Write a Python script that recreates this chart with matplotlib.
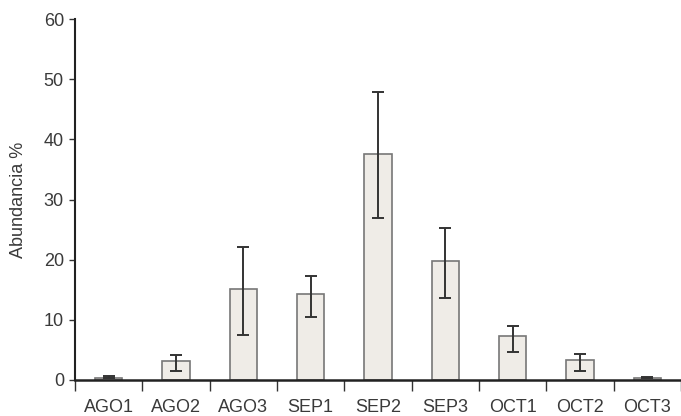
import numpy as np
import matplotlib
matplotlib.use("Agg")
import matplotlib.pyplot as plt

categories = ["AGO1", "AGO2", "AGO3", "SEP1", "SEP2", "SEP3", "OCT1", "OCT2", "OCT3"]
abundance = [0.4, 3.2, 15.1, 14.3, 37.5, 19.8, 7.3, 3.4, 0.4]
err_low = [0.1, 1.7, 7.6, 3.8, 10.5, 6.2, 2.6, 1.95, 0.1]
err_high = [0.2, 0.95, 7.0, 3.0, 10.4, 5.5, 1.7, 1.0, 0.1]

plt.rcParams["font.family"] = ["Liberation Sans", "DejaVu Sans"]
text_color = "#3a3a3a"

fig = plt.figure(figsize=(6.81, 4.16), dpi=100)
ax = fig.add_axes([75 / 681, 36 / 416, 1 - 75 / 681, 361 / 416])

x = np.arange(len(categories))
ax.bar(x, abundance, width=0.41, color="#efece7", edgecolor="#777777", linewidth=1.2, zorder=2)
ax.errorbar(x, abundance, yerr=[err_low, err_high], fmt="none", ecolor="#333333",
            elinewidth=1.4, capsize=4.5, capthick=1.4, zorder=3)

ax.set_xlim(-0.5, 8.45)
ax.set_ylim(0, 60)
ax.set_yticks(np.arange(0, 61, 10))
ax.set_xticks(x)
ax.set_xticklabels(categories)
ax.set_xticks(np.arange(-0.5, 9, 1), minor=True)

for side in ("top", "right"):
    ax.spines[side].set_visible(False)
ax.spines["left"].set_linewidth(1.5)
ax.spines["bottom"].set_linewidth(1.8)
ax.spines["left"].set_color("#222222")
ax.spines["bottom"].set_color("#222222")

ax.tick_params(axis="y", length=4, width=1, color="#333333", labelsize=13, labelcolor=text_color, pad=4)
ax.tick_params(axis="x", which="major", length=0, labelsize=13, labelcolor=text_color, pad=14)
ax.tick_params(axis="x", which="minor", length=8, width=1, color="#333333")

ax.set_ylabel("Abundancia %", fontsize=13, color=text_color, labelpad=12)

fig.savefig("out.png", dpi=100)
